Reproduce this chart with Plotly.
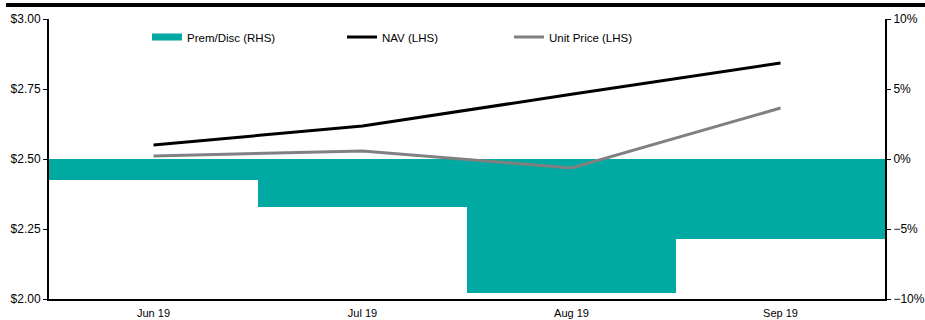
import plotly.graph_objects as go

months = ["Jun 19", "Jul 19", "Aug 19", "Sep 19"]
prem_disc = [-0.015, -0.034, -0.096, -0.057]
nav = [2.55, 2.618, 2.731, 2.843]
unit_price = [2.511, 2.529, 2.468, 2.682]

FONT = "Liberation Sans, Arial, sans-serif"
TEAL = "#00AAA3"

fig = go.Figure()
fig.add_trace(go.Bar(x=months, y=prem_disc, name="Prem/Disc (RHS)", marker=dict(color=TEAL, line=dict(width=0)),
                     yaxis="y", showlegend=False))
# legend-only entry so the swatch is a wide band like the reference
fig.add_trace(go.Scatter(x=[None], y=[None], name="Prem/Disc (RHS)", mode="lines",
                         line=dict(color=TEAL, width=7), yaxis="y", legend="legend", showlegend=True))
fig.add_trace(go.Scatter(x=months, y=nav, name="NAV (LHS)", mode="lines", line=dict(color="#000000", width=3),
                         yaxis="y2", legend="legend2", showlegend=True))
fig.add_trace(go.Scatter(x=months, y=unit_price, name="Unit Price (LHS)", mode="lines", line=dict(color="#808080", width=3),
                         yaxis="y2", legend="legend3", showlegend=True))

W, H = 925, 320
L, R, T, B = 49, 40, 19, 21
pw = W - L - R
ph = H - T - B

def px(xp):
    return (xp - L) / pw

def py(yp):
    return (H - B - yp) / ph

leg_common = dict(orientation="h", yanchor="middle", xanchor="left", bgcolor="rgba(0,0,0,0)",
                  font=dict(family=FONT, size=11.5, color="#000000"), borderwidth=0)

fig.update_layout(
    width=W, height=H,
    margin=dict(l=L, r=R, t=T, b=B, pad=0, autoexpand=False),
    paper_bgcolor="white", plot_bgcolor="white",
    bargap=0,
    showlegend=True,
    font=dict(family=FONT, size=11, color="#000000"),
    xaxis=dict(type="category", range=[-0.5, 3.5], showgrid=False, zeroline=False, automargin=False,
               showline=True, linecolor="#000000", linewidth=2, ticks="",
               tickfont=dict(size=11), ticklabelstandoff=3),
    yaxis=dict(side="right", range=[-0.10, 0.10], dtick=0.05, tickformat=".0%", automargin=False,
               showgrid=False, zeroline=False, showline=True, linecolor="#000000", linewidth=2,
               ticks="outside", ticklen=4, tickwidth=1, tickcolor="#000000", tickfont=dict(size=12)),
    yaxis2=dict(side="left", overlaying="y", range=[2.0, 3.0], dtick=0.25, tickformat="$.2f", automargin=False,
                showgrid=False, zeroline=False, showline=True, linecolor="#000000", linewidth=2,
                ticks="outside", ticklen=4, tickwidth=1, tickcolor="#000000", tickfont=dict(size=12)),
    legend=dict(x=px(147), y=py(37), **leg_common),
    legend2=dict(x=px(342), y=py(37), **leg_common),
    legend3=dict(x=px(509), y=py(37), **leg_common),
    shapes=[dict(type="line", xref="paper", yref="paper", x0=px(6), x1=px(925), y0=py(5), y1=py(5),
                 line=dict(color="#000000", width=4))],
)

fig.write_html("out.html", config={"displayModeBar": False},
               post_script="document.body.style.margin='0';document.body.style.overflow='hidden';")
